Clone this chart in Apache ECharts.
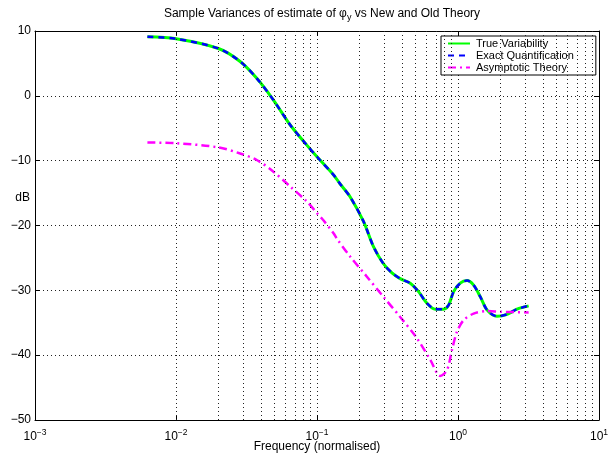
<!DOCTYPE html>
<html><head><meta charset="utf-8">
<script src="https://cdn.jsdelivr.net/npm/echarts@6/dist/echarts.min.js"></script>
<style>html,body{margin:0;padding:0;background:#fff}#c{width:610px;height:455px}</style>
</head><body><div id="c"></div>
<script>
// Frequencies (normalised)
var freqMain = [0.00627,0.01,0.02,0.0285,0.0374,0.0491,0.0646,0.0847,0.1,0.131,0.146,0.172,0.214,0.252,0.296,0.34,0.389,0.458,0.525,0.603,0.69,0.79,0.857,0.931,1.037,1.159,1.29,1.44,1.61,1.89,2.23,2.62,3.17];
var trueDb   = [9.1,8.8,7.3,5.3,2.7,-0.65,-4.5,-7.6,-9.4,-12.2,-13.6,-15.6,-19.4,-23.3,-25.9,-27.3,-28.2,-28.9,-30.2,-32.0,-32.9,-32.9,-32.3,-30.2,-28.9,-28.5,-29.2,-31.0,-33.05,-34.0,-33.7,-32.9,-32.4];
var exactDb  = [9.1,8.8,7.3,5.3,2.7,-0.65,-4.5,-7.6,-9.4,-12.2,-13.6,-15.6,-19.4,-23.3,-25.9,-27.3,-28.2,-28.9,-30.2,-32.0,-32.9,-32.9,-32.3,-30.2,-28.9,-28.5,-29.2,-31.0,-33.05,-34.0,-33.7,-32.9,-32.4];
var freqAsym = [0.00627,0.01,0.02,0.0285,0.0374,0.0491,0.0646,0.0847,0.1,0.111,0.131,0.138,0.172,0.226,0.296,0.389,0.512,0.639,0.748,0.836,0.906,0.983,1.096,1.29,1.61,2.0,3.17];
var asymDb   = [-7.2,-7.3,-7.95,-8.9,-9.9,-11.7,-14.0,-16.3,-18.1,-19.2,-21.2,-22.0,-24.8,-27.9,-31.0,-34.1,-37.4,-40.8,-43.2,-42.3,-39.2,-36.4,-34.6,-33.6,-33.2,-33.3,-33.4];
var seriesNames = ['True Variability','Exact Quantification','Asymptotic Theory'];
var xDecades = [0.001,0.01,0.1,1];
var minorMult = [2,3,4,5,6,7,8,9];

function pairs(xs, ys){ return xs.map(function(x,i){ return [x, ys[i]]; }); }
var minorLines = [];
xDecades.forEach(function(d){ minorMult.forEach(function(m){ minorLines.push({xAxis: +(d*m).toPrecision(3)}); }); });

var FONT = 'Liberation Sans, Arial, Helvetica, sans-serif';
var GRID = {type: [1,3], color: '#222', width: 1};
var chart = echarts.init(document.getElementById('c'), null, {renderer:'canvas'});
function expFmt(v){
  var e = Math.round(Math.log10(v));
  return '10{e|' + String(e).replace('-', '\u2212') + '}';
}
function xAxisDef(top){
  return {
    type: 'log', logBase: 10, min: 0.001, max: 10, position: top ? 'top' : 'bottom',
    axisLine: {show: true, onZero: false, lineStyle: {color: '#000', width: 1}},
    axisTick: {show: true, inside: true, length: 5, lineStyle: {color:'#000'}},
    axisLabel: top ? {show: false} : {formatter: expFmt, fontFamily: FONT, fontSize: 12, color:'#000', margin: 8.5,
      rich: {e: {fontFamily: FONT, fontSize: 8.5, color:'#000', verticalAlign:'top', padding:[0,0,8,0]}}},
    splitLine: {show: !top, lineStyle: GRID}
  };
}
var opt = {
  animation: false,
  backgroundColor: '#fff',
  title: {
    text: 'Sample Variances of estimate of {p|\u03c6}{s|y} vs New and Old Theory',
    left: 317, top: 1, textAlign: 'center',
    textStyle: {fontFamily: FONT, fontSize: 12, fontWeight: 'normal', color: '#000',
      rich: {p: {fontFamily: FONT, fontSize: 12, color:'#000'}, s: {fontFamily: FONT, fontSize: 9, color:'#000', verticalAlign:'bottom', padding:[7,0,0,0]}}}
  },
  grid: {left: 35, right: 11, top: 31, bottom: 35, containLabel: false, outerBoundsMode: 'none'},
  legend: {
    data: seriesNames, orient: 'vertical', left: 441, top: 36,
    padding: [2, 22, 2, 6], itemGap: 1, itemWidth: 22, itemHeight: 11,
    borderColor: '#000', borderWidth: 1, backgroundColor: '#fff',
    itemStyle: {opacity: 0},
    textStyle: {fontFamily: FONT, fontSize: 11, color: '#000', padding:[0,0,0,1]}
  },
  xAxis: [
    Object.assign(xAxisDef(false), {name: 'Frequency (normalised)', nameLocation: 'middle', nameGap: 21, nameMoveOverlap: false,
      nameTextStyle: {fontFamily: FONT, fontSize: 12, color: '#000'}}),
    xAxisDef(true)
  ],
  yAxis: [{
    type: 'value', min: -50, max: 10, interval: 10,
    name: 'dB', nameLocation: 'middle', nameRotate: 0, nameGap: 5, nameMoveOverlap: false,
    nameTextStyle: {fontFamily: FONT, fontSize: 12, color: '#000', verticalAlign: 'bottom', lineHeight: 56},
    axisLine: {show: true, onZero: false, lineStyle: {color: '#000', width: 1}},
    axisTick: {show: true, inside: true, length: 5, lineStyle: {color:'#000'}},
    axisLabel: {formatter: function(v){ return String(v).replace('-', '\u2212'); }, fontFamily: FONT, fontSize: 12, color:'#000', margin: 4},
    splitLine: {show: true, lineStyle: GRID}
  },{
    type: 'value', min: -50, max: 10, interval: 10, position: 'right',
    axisLine: {show: true, onZero: false, lineStyle: {color: '#000', width: 1}},
    axisTick: {show: true, inside: true, length: 5, lineStyle: {color:'#000'}},
    axisLabel: {show: false}, splitLine: {show: false}
  }],
  series: [
    {name: 'grid', type: 'line', data: [], silent: true, z: 1,
     markLine: {silent: true, symbol: ['none','none'], label: {show: false},
       lineStyle: GRID, data: minorLines, animation: false}},
    {name: seriesNames[0], type: 'line', data: pairs(freqMain, trueDb), smooth: 0.3, symbol: 'none', showSymbol: false, z: 3,
     lineStyle: {color: '#00ff00', width: 3}, itemStyle: {color: '#00ff00'}},
    {name: seriesNames[1], type: 'line', data: pairs(freqMain, exactDb), smooth: 0.3, symbol: 'none', showSymbol: false, z: 4,
     lineStyle: {color: '#0000ff', width: 2.5, type: [6,5]}, itemStyle: {color: '#0000ff'}},
    {name: seriesNames[2], type: 'line', data: pairs(freqAsym, asymDb), smooth: 0.3, symbol: 'none', showSymbol: false, z: 4,
     lineStyle: {color: '#ff00ff', width: 2.5, type: [8,4,2,4]}, itemStyle: {color: '#ff00ff'}}
  ]
};
chart.setOption(opt);
</script></body></html>
